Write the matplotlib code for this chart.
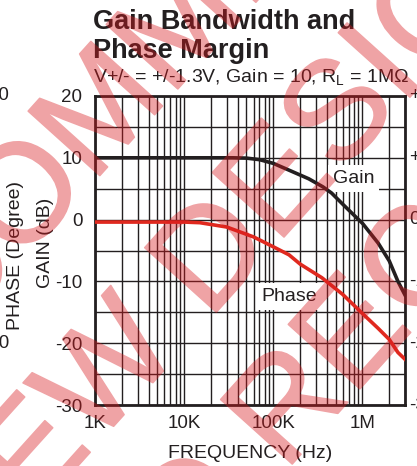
import matplotlib
matplotlib.use("Agg")
import matplotlib.pyplot as plt
import matplotlib.transforms as mtransforms
from matplotlib import patheffects
from matplotlib.ticker import MultipleLocator, LogLocator, NullFormatter
import numpy as np

plt.rcParams['font.family'] = ['Liberation Sans', 'DejaVu Sans']
plt.rcParams['mathtext.fontset'] = 'custom'
plt.rcParams['mathtext.rm'] = 'Liberation Sans'

# closed loop response, gain = 10
gain_freq = [1e3, 1e4, 3.5e4, 5e4, 7e4, 1e5, 1.5e5, 2.5e5, 3.6e5, 4.5e5, 6e5,
             8.6e5, 1e6, 1.5e6, 2e6, 2.5e6, 3e6]
gain_db = [10, 10, 10, 9.95, 9.7, 9.1, 8.0, 6.6, 5.3, 4.3, 2.5,
           0.3, -0.6, -3.8, -6.7, -10.0, -12.2]

phase_freq = [1e3, 1e4, 1.5e4, 3e4, 6e4, 1e5, 1.5e5, 2e5, 3.5e5, 6e5,
              1e6, 1.5e6, 2e6, 2.5e6, 3e6]
phase_val = [-0.4, -0.4, -0.5, -1.2, -2.8, -4.4, -5.7, -7.2, -9.4, -12.1,
             -15.2, -17.6, -19.4, -21.5, -22.6]

gain_ticks = [20, 10, 0, -10, -20, -30]
gain_ticklabels = ['20', '10', '0', '-10', '-20', '-30']
right_ticklabels = ['+20', '+10', '0', '-10', '-20', '-30']
freq_ticks = [1e3, 1e4, 1e5, 1e6]
freq_ticklabels = ['1K', '10K', '100K', '1M']
phase_ticks = [20, -20]
phase_ticklabels = ['90', '-90']

ink = '#231f20'
W, H = 417, 466

fig = plt.figure(figsize=(W / 100, H / 100), dpi=100)
ax = fig.add_axes([95 / W, 1 - 405 / H, 310 / W, 309 / H])

ax.set_xscale('log')
ax.plot(gain_freq, gain_db, color=ink, lw=2.6, zorder=3)
ax.plot(phase_freq, phase_val, color='#e0291f', lw=2.6, zorder=3)

ax.set_xlim(1e3, 3e6)
ax.set_ylim(-30, 20)
ax.set_yticks(gain_ticks, gain_ticklabels)
ax.set_xticks(freq_ticks, freq_ticklabels)
ax.yaxis.set_minor_locator(MultipleLocator(5))
ax.xaxis.set_minor_locator(LogLocator(base=10, subs=range(2, 10)))
ax.xaxis.set_minor_formatter(NullFormatter())
ax.tick_params(which='both', length=0, labelsize=13.5, colors=ink)
ax.tick_params(axis='y', pad=9)
ax.tick_params(axis='x', pad=7)
ax.grid(True, which='both', color=ink, lw=1.0)
for s in ax.spines.values():
    s.set_linewidth(2.0)
    s.set_color(ink)

# curve labels sit over the grid but under the curves
box = dict(boxstyle='square,pad=0.25', fc='white', ec='none')
ax.text(8e5, 6.7, 'Gain', fontsize=14, color=ink, ha='center', va='center',
        bbox=box, zorder=2.5)
ax.text(1.5e5, -12.4, 'Phase', fontsize=14, color=ink, ha='center', va='center',
        bbox=box, zorder=2.5)

# outer scales, cut by the page edge
tr = mtransforms.blended_transform_factory(fig.transFigure, ax.transData)
for v, lab in zip(gain_ticks, right_ticklabels):
    fig.text(409 / W, v, lab, transform=tr, fontsize=13.5, color=ink,
             ha='left', va='center')
for v, lab in zip(phase_ticks, phase_ticklabels):
    fig.text(9 / W, v, lab, transform=tr, fontsize=13.5, color=ink,
             ha='right', va='center')

fig.text(93 / W, 1 - 29 / H, 'Gain Bandwidth and', fontsize=19.5,
         fontweight='bold', color=ink, va='baseline')
fig.text(93 / W, 1 - 58 / H, 'Phase Margin', fontsize=19.5,
         fontweight='bold', color=ink, va='baseline')
fig.text(93 / W, 1 - 83 / H,
         r'V+/- = +/-1.3V, Gain = 10, R$_\mathregular{L}$ = 1M$\Omega$',
         fontsize=14, color=ink, va='baseline')

fig.text(250 / W, 1 - 453 / H, 'FREQUENCY (Hz)', fontsize=14, color=ink,
         ha='center', va='center')
fig.text(46 / W, 1 - 243 / H, 'GAIN (dB)', fontsize=14, color=ink,
         ha='center', va='center', rotation=90)
fig.text(16 / W, 1 - 255 / H, 'PHASE (Degree)', fontsize=14, color=ink,
         ha='center', va='center', rotation=90)

# diagonal status stamp across the page: rendered once as a mask, then
# laid over the chart as a single translucent layer
ang = np.deg2rad(48)
ux, uy = np.cos(ang), -np.sin(ang)
vx, vy = -np.sin(ang), -np.cos(ang)


def stamp_pos(u, v, ox=205, oy=250):
    px = ox + u * ux + v * vx
    py = oy + u * uy + v * vy
    return px / W, 1 - py / H


stamp_lines = [('NOT RECOMMENDED', -763, 128),
               ('FOR NEW DESIGNS', -750, -50),
               ('NO RECOMMENDED REPLACEMENT', -361, -208)]

stamp = plt.figure(figsize=(W / 100, H / 100), dpi=100)
for s, u, v in stamp_lines:
    x, y = stamp_pos(u, v)
    stamp.text(x, y, s, rotation=48, rotation_mode='anchor', ha='left',
               va='baseline', fontsize=100.8, color='k',
               path_effects=[patheffects.withStroke(linewidth=1.2, foreground='k')])
stamp.canvas.draw()
cover = 1 - np.asarray(stamp.canvas.buffer_rgba())[..., 0] / 255.0
plt.close(stamp)

layer = np.zeros(cover.shape + (4,))
layer[..., 0] = 0.85
layer[..., 1] = 0.1
layer[..., 2] = 0.12
layer[..., 3] = cover * 0.4
fig.figimage(layer, zorder=20, origin='upper')

fig.savefig('out.png', dpi=100)
